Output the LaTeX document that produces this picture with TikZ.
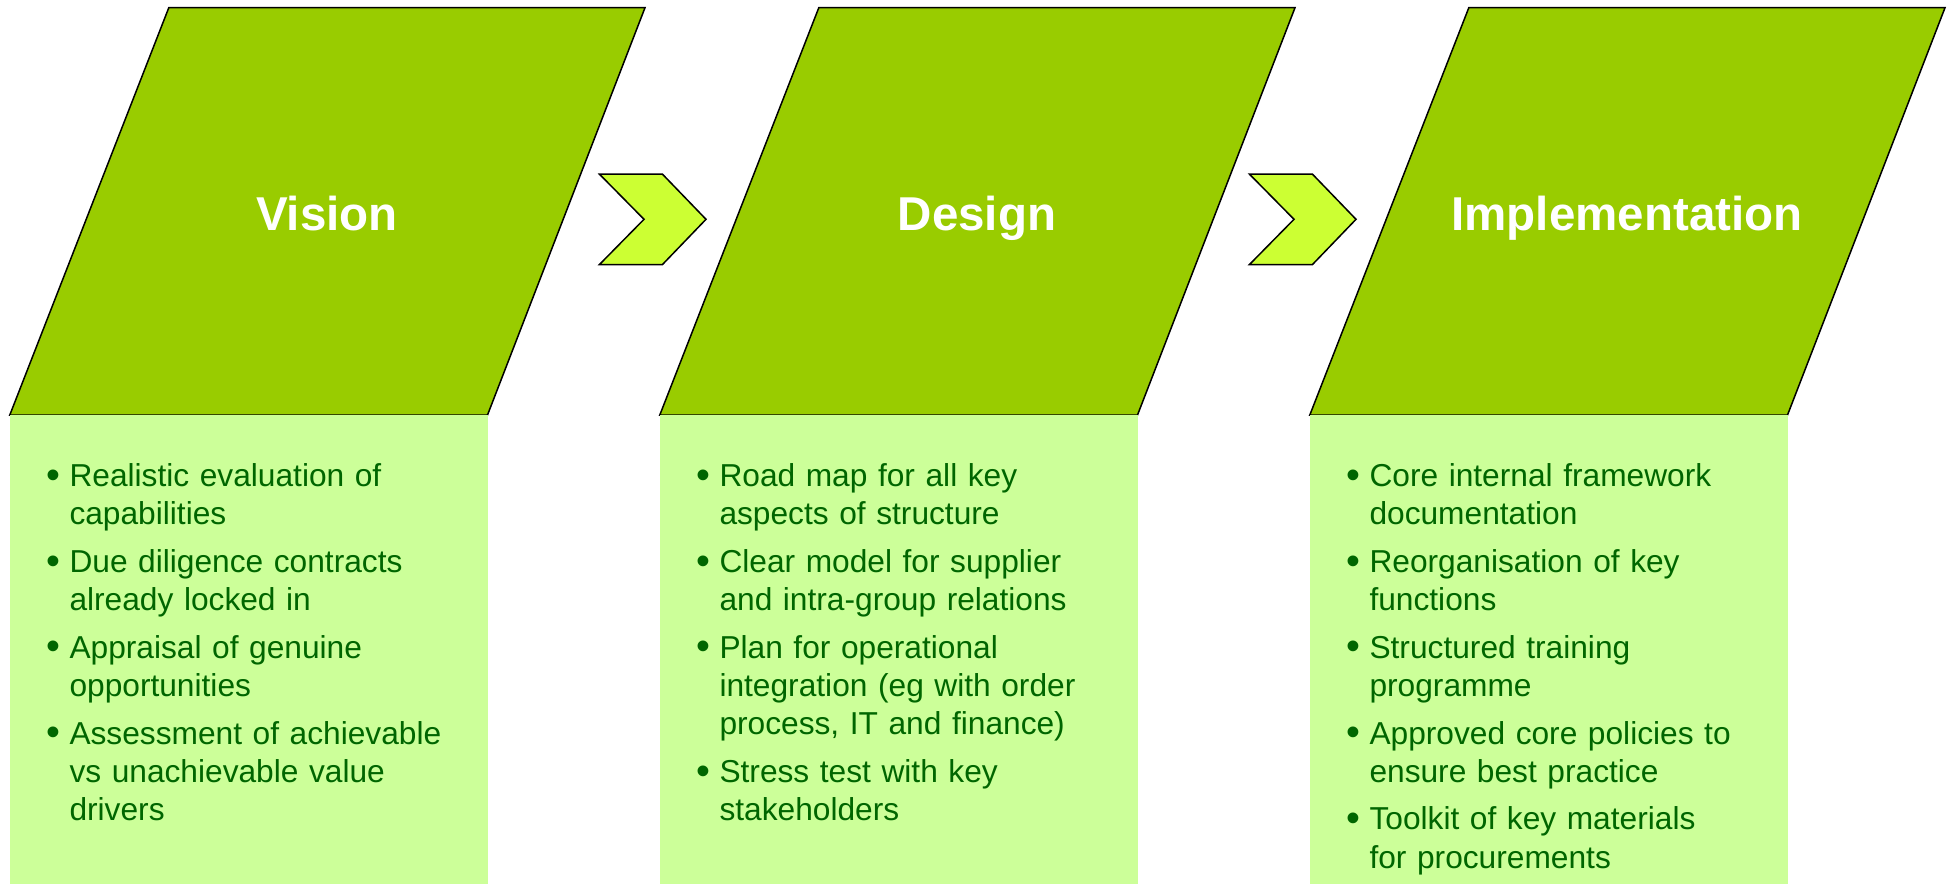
\documentclass[tikz,border=0pt]{standalone}
\usepackage{fontspec}
\setmainfont{Liberation Sans}
\definecolor{phase}{HTML}{99CC00}
\definecolor{chev}{HTML}{CCFF33}
\definecolor{light}{HTML}{CCFF99}
\definecolor{txt}{HTML}{006600}
\tikzset{
  phasebox/.style={fill=phase,draw=black,line width=1.5pt,line join=miter},
  chevbox/.style={fill=chev,draw=black,line width=1.5pt,line join=miter},
  lightbox/.style={fill=light,draw=none},
  title/.style={text=white,font=\bfseries\fontsize{47.5}{57}\selectfont,anchor=base,inner sep=0pt},
  coltext/.style={text=txt,anchor=north west,inner sep=0pt,text width=420pt,align=left,
    font=\fontsize{31.7}{38.3}\selectfont}
}
\newcommand\bitem[1]{\par\noindent\llap{\raisebox{-1.8pt}{\scalebox{1.25}{\textbullet}}\hspace{9pt}}\strut#1}
\begin{document}
\begin{tikzpicture}[x=1pt,y=-1pt]
\useasboundingbox (0,0) rectangle (1953,884);
\foreach \dx in {0,650,1300}{
  \draw[phasebox] (168.8+\dx,7.7) -- (645+\dx,7.7) -- (487.5+\dx,415) -- (9.8+\dx,415) -- cycle;
  \fill[lightbox] (9.8+\dx,414.5) rectangle (487.5+\dx,884);
}
\foreach \dx in {0,650}{
  \draw[chevbox] (599.3+\dx,174) -- (662.3+\dx,174) -- (706+\dx,219.3) -- (662.3+\dx,264.7) -- (599.3+\dx,264.7) -- (644+\dx,219.3) -- cycle;
}
\node[title] (t1) at (327,230) {Vision};
\node[title] (t2) at (977,230) {Design};
\node[title] (t3) at (1627,230) {Implementation};
\node[coltext] (c1) at (69.3,438.5) {\setlength\parskip{9.3pt}%
\bitem{Realistic evaluation of\\capabilities}
\bitem{Due diligence contracts\\already locked in}
\bitem{Appraisal of genuine\\opportunities}
\bitem{Assessment of achievable\\vs unachievable value\\drivers}};
\node[coltext] (c2) at (719.3,438.5) {\setlength\parskip{9.3pt}%
\bitem{Road map for all key\\aspects of structure}
\bitem{Clear model for supplier\\and intra-group relations}
\bitem{Plan for operational\\integration (eg with order\\process, IT and finance)}
\bitem{Stress test with key\\stakeholders}};
\node[coltext] (c3) at (1369.3,438.5) {\setlength\parskip{9.3pt}%
\bitem{Core internal framework\\documentation}
\bitem{Reorganisation of key\\functions}
\bitem{Structured training\\programme}
\bitem{Approved core policies to\\ensure best practice}
\bitem{Toolkit of key materials\\for procurements}};
\end{tikzpicture}
\end{document}
